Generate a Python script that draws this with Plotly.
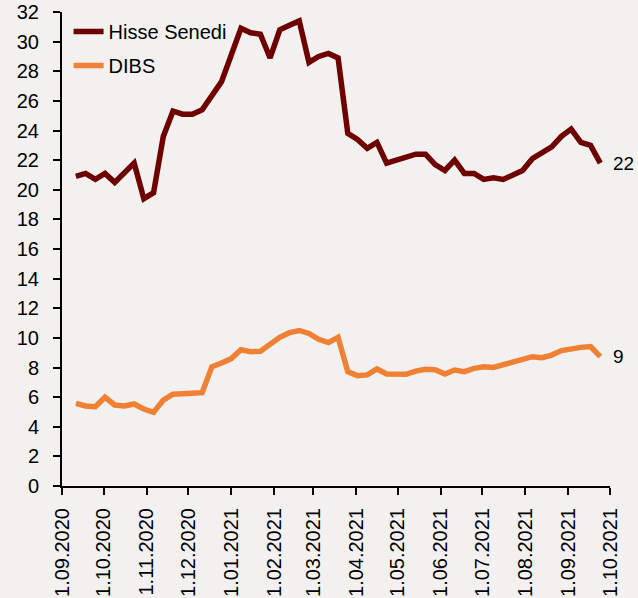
import pandas as pd
import plotly.graph_objects as go

start_date = "2020-09-11"
n_weeks = 55
dates = pd.date_range(start_date, periods=n_weeks, freq="7D")

hisse_senedi = [
    20.9, 21.1, 20.7, 21.1, 20.5, 21.2, 21.8, 19.4, 19.8, 23.6,
    25.3, 25.1, 25.1, 25.4, 26.4, 27.3, 29.1, 30.9, 30.6, 30.5,
    28.9, 30.8, 31.1, 31.4, 28.6, 29.0, 29.2, 28.9, 23.8, 23.4,
    22.8, 23.2, 21.8, 22.0, 22.2, 22.4, 22.4, 21.7, 21.3, 22.0,
    21.1, 21.1, 20.7, 20.8, 20.7, 21.0, 21.3, 22.1, 22.5, 22.9,
    23.6, 24.1, 23.2, 23.0, 21.8,
]
dibs = [
    5.58, 5.40, 5.35, 5.99, 5.47, 5.40, 5.54, 5.20, 4.97, 5.80,
    6.20, 6.19, 6.26, 6.30, 8.05, 8.30, 8.60, 9.20, 9.07, 9.10,
    9.60, 10.04, 10.35, 10.50, 10.30, 9.90, 9.68, 10.04, 7.72, 7.45,
    7.50, 7.90, 7.56, 7.56, 7.54, 7.76, 7.88, 7.85, 7.56, 7.83,
    7.72, 7.94, 8.05, 8.00, 8.17, 8.39, 8.57, 8.73, 8.66, 8.84,
    9.14, 9.27, 9.36, 9.41, 8.73,
]
series_names = ["Hisse Senedi", "DIBS"]
x_tick_dates = pd.date_range("2020-09-01", "2021-10-01", freq="MS")
y_ticks = list(range(0, 33, 2))

colors = ["#6e0000", "#f08033"]
font_family = "Liberation Sans, Arial, sans-serif"

fig = go.Figure()
for name, vals, col in zip(series_names, [hisse_senedi, dibs], colors):
    fig.add_trace(go.Scatter(
        x=dates, y=vals, mode="lines", name=name,
        line=dict(color=col, width=5.5), legendgroup=name,
    ))
    fig.add_annotation(
        x=dates[-1], y=vals[-1], xref="x", yref="y",
        text=f"{round(vals[-1])}", showarrow=False,
        xanchor="left", yanchor="middle", xshift=11,
        font=dict(size=19, color="black", family=font_family),
    )

fig.update_layout(
    width=638, height=598,
    margin=dict(l=62, r=28, t=12, b=112),
    paper_bgcolor="#f3f1f0", plot_bgcolor="#f3f1f0",
    font=dict(family=font_family, size=20, color="black"),
    showlegend=True,
    legend=dict(
        x=0.012, y=1.0, xanchor="left", yanchor="top",
        bgcolor="rgba(0,0,0,0)", font=dict(size=20),
        tracegroupgap=5,
    ),
    xaxis=dict(
        type="date",
        range=["2020-09-01", "2021-10-01"],
        tickvals=list(x_tick_dates),
        tickformat="%-d.%m.%Y",
        tickangle=-90,
        ticks="outside", ticklen=7, tickwidth=2, tickcolor="black",
        showline=True, linecolor="black", linewidth=2,
        showgrid=False, zeroline=False,
        ticklabelstandoff=5,
        automargin=False,
        ticklabeloverflow="allow",
        tickfont=dict(size=20),
    ),
    yaxis=dict(
        range=[0, 32],
        tickvals=y_ticks,
        ticks="outside", ticklen=7, tickwidth=2, tickcolor="black",
        showline=True, linecolor="black", linewidth=2,
        showgrid=False, zeroline=False,
        ticklabelstandoff=10,
        automargin=False,
        ticklabeloverflow="allow",
        tickfont=dict(size=20),
    ),
)

fig.write_html(
    "out.html",
    config={"displayModeBar": False},
    post_script="document.body.style.margin='0';document.body.style.background='#f3f1f0';",
)
